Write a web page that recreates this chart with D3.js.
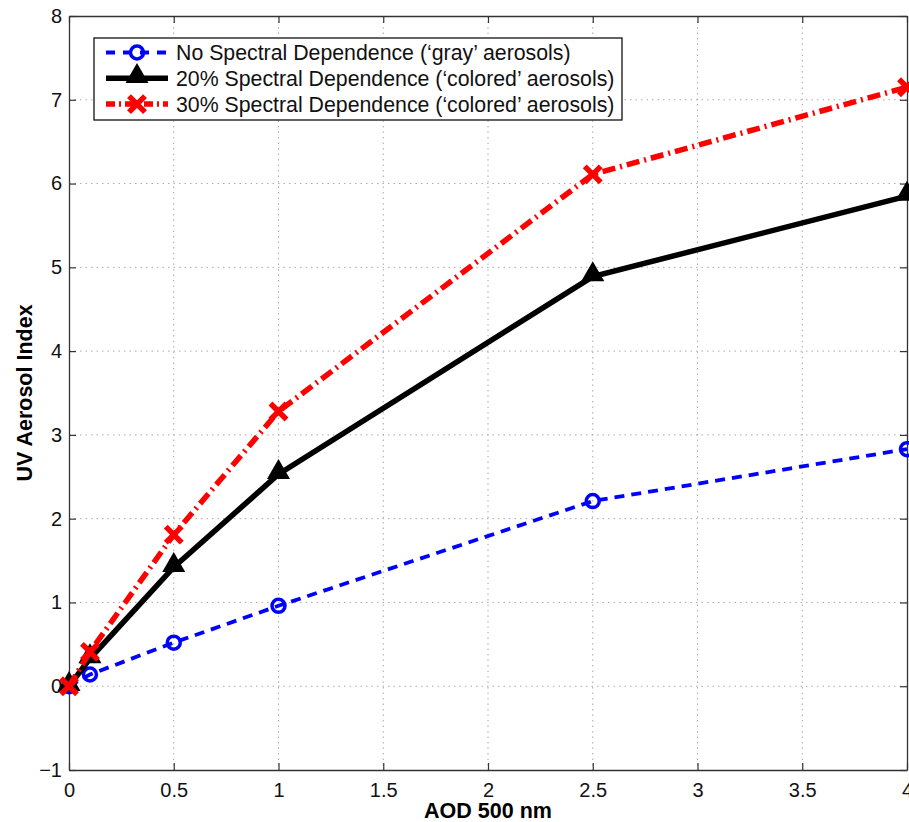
<!DOCTYPE html>
<html>
<head>
<meta charset="utf-8">
<script src="https://cdn.jsdelivr.net/npm/d3@7"></script>
<style>
body{margin:0;background:#fff;}
text{font-family:"Liberation Sans",Arial,sans-serif;}
</style>
</head>
<body>
<script>
// AOD values on the x axis
var aod = [0, 0.1, 0.5, 1, 2.5, 4];
// UV aerosol index for each case
var grayVals = [0, 0.14, 0.52, 0.96, 2.21, 2.83];
var col20Vals = [0, 0.33, 1.42, 2.53, 4.89, 5.85];
var col30Vals = [0, 0.41, 1.81, 3.28, 6.11, 7.15];
var seriesNames = [
  "No Spectral Dependence (\u2018gray\u2019 aerosols)",
  "20% Spectral Dependence (\u2018colored\u2019 aerosols)",
  "30% Spectral Dependence (\u2018colored\u2019 aerosols)"
];
var xTicks = [0, 0.5, 1, 1.5, 2, 2.5, 3, 3.5, 4];
var yTicks = [-1, 0, 1, 2, 3, 4, 5, 6, 7, 8];

var W = 909, H = 822;
var pLeft = 69, pRight = 907, pTop = 16, pBottom = 770;

var x = d3.scaleLinear().domain([0, 4]).range([pLeft, pRight]);
var y = d3.scaleLinear().domain([-1, 8]).range([pBottom, pTop]);

var svg = d3.select("body").append("svg")
  .attr("width", W).attr("height", H);

// grid
var grid = svg.append("g");
grid.selectAll(".gx").data(xTicks.slice(1, -1)).enter().append("line")
  .attr("x1", d => x(d)).attr("x2", d => x(d))
  .attr("y1", pTop).attr("y2", pBottom)
  .attr("stroke", "#aaa").attr("stroke-width", 1).attr("stroke-dasharray", "1.5,4");
grid.selectAll(".gy").data(yTicks.slice(1, -1)).enter().append("line")
  .attr("y1", d => y(d)).attr("y2", d => y(d))
  .attr("x1", pLeft).attr("x2", pRight)
  .attr("stroke", "#aaa").attr("stroke-width", 1).attr("stroke-dasharray", "1.5,4");

// axes (ticks inward, matlab style)
var fmt = d => d < 0 ? "\u2212" + Math.abs(d) : String(d);
svg.append("g").attr("transform", "translate(0," + pBottom + ")")
  .call(d3.axisBottom(x).tickValues(xTicks).tickFormat(fmt).tickSizeInner(-7).tickSizeOuter(0).tickPadding(13));
svg.append("g").attr("transform", "translate(" + pLeft + ",0)")
  .call(d3.axisLeft(y).tickValues(yTicks).tickFormat(fmt).tickSizeInner(-7).tickSizeOuter(0).tickPadding(7));
svg.append("g").attr("transform", "translate(0," + pTop + ")")
  .call(d3.axisTop(x).tickValues(xTicks).tickFormat("").tickSizeInner(-7).tickSizeOuter(0));
svg.append("g").attr("transform", "translate(" + pRight + ",0)")
  .call(d3.axisRight(y).tickValues(yTicks).tickFormat("").tickSizeInner(-7).tickSizeOuter(0));
svg.selectAll(".domain").attr("stroke", "#333").attr("stroke-width", 1.3);
svg.selectAll(".tick line").attr("stroke", "#333").attr("stroke-width", 1.2);
svg.selectAll(".tick text").attr("font-size", 20).attr("fill", "#111")
  .style("font-family", "'Liberation Sans', Arial, sans-serif");

// axis titles
svg.append("text").attr("x", (pLeft + pRight) / 2).attr("y", 818)
  .attr("text-anchor", "middle").attr("font-size", 21.5).attr("font-weight", "bold")
  .text("AOD 500 nm");
svg.append("text").attr("transform", "translate(32," + ((pTop + pBottom) / 2) + ") rotate(-90)")
  .attr("text-anchor", "middle").attr("font-size", 21.5).attr("font-weight", "bold")
  .text("UV Aerosol Index");

var series = [
  {vals: grayVals, color: "#0000ff", width: 3.8, dash: "10,7", marker: "circle"},
  {vals: col20Vals, color: "#000", width: 5.5, dash: null, marker: "triangle"},
  {vals: col30Vals, color: "#ff0000", width: 5.5, dash: "13,5,2,5", marker: "x"}
];

var line = d3.line().x((d, i) => x(aod[i])).y(d => y(d));
var plot = svg.append("g");

function drawMarker(g, kind, color) {
  if (kind === "circle") {
    g.append("circle").attr("r", 6.5).attr("fill", "none")
      .attr("stroke", color).attr("stroke-width", 3.5);
  } else if (kind === "triangle") {
    g.append("path").attr("d", d3.symbol(d3.symbolTriangle, 230)())
      .attr("transform", "translate(0,-2)").attr("fill", color);
  } else {
    g.append("path").attr("d", "M-8,-8L8,8M-8,8L8,-8")
      .attr("stroke", color).attr("stroke-width", 5.5).attr("fill", "none");
  }
}

series.forEach(function(s) {
  plot.append("path").datum(s.vals).attr("d", line)
    .attr("fill", "none").attr("stroke", s.color).attr("stroke-width", s.width)
    .attr("stroke-dasharray", s.dash);
  s.vals.forEach(function(v, i) {
    var g = plot.append("g").attr("transform", "translate(" + x(aod[i]) + "," + y(v) + ")");
    drawMarker(g, s.marker, s.color);
  });
});

// legend
var lg = svg.append("g");
lg.append("rect").attr("x", 94).attr("y", 38).attr("width", 528).attr("height", 82)
  .attr("fill", "#fff").attr("stroke", "#111").attr("stroke-width", 1.3);
series.forEach(function(s, i) {
  var base = 60 + i * 25.8;
  var cy = base - 7.5;
  lg.append("line").attr("x1", 106).attr("x2", 168).attr("y1", cy).attr("y2", cy)
    .attr("stroke", s.color).attr("stroke-width", s.width)
    .attr("stroke-dasharray", s.dash ? (s.marker === "x" ? "9,4,2,4" : "9,8") : null);
  var g = lg.append("g").attr("transform", "translate(137," + cy + ")");
  drawMarker(g, s.marker, s.color);
  lg.append("text").attr("x", 176).attr("y", base).attr("font-size", 21.3)
    .attr("fill", "#111").text(seriesNames[i]);
});
</script>
</body>
</html>
